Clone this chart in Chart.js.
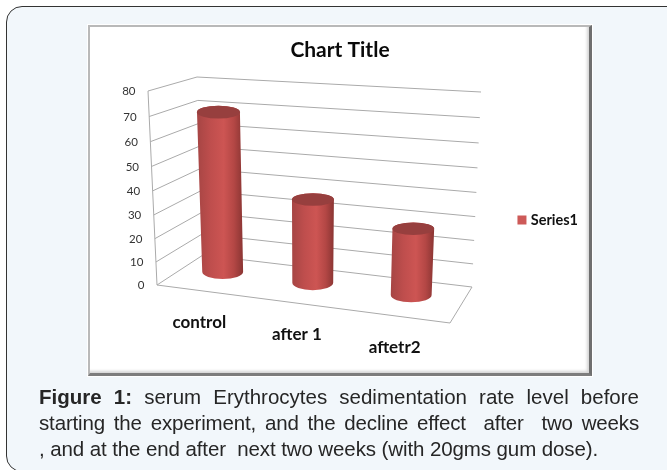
<!DOCTYPE html>
<html>
<head>
<meta charset="utf-8">
<style>
html,body{margin:0;padding:0;width:667px;height:470px;overflow:hidden;background:#fff;}
#panel{position:absolute;left:6px;top:6px;width:700px;height:466px;box-sizing:border-box;background:#f2f7fb;border:1.5px solid #333;border-radius:16px;}
#frame{position:absolute;left:88px;top:25px;width:504px;height:351px;box-sizing:border-box;background:#fff;border-style:solid;border-width:2px 3px 3px 2px;border-color:#b9b9b9 #6f6f6f #7d7d7d #b9b9b9;box-shadow:inset -3px -3px 3px -1px #d4d4d4,0 0 0 1px #fff;}
canvas{position:absolute;left:92px;top:28px;}
#caption{position:absolute;left:39px;top:384px;width:600px;font-family:"Liberation Sans",Arial,sans-serif;font-size:20.5px;line-height:26px;color:#262626;white-space:pre;}
#caption div{text-align:justify;text-align-last:justify;}
#caption div.second{letter-spacing:-0.15px;}
#caption div.last{text-align:left;text-align-last:left;letter-spacing:-0.1px;}
</style>
</head>
<body>
<div id="panel"></div>
<div id="frame"></div>
<canvas id="c" width="496" height="384"></canvas>
<div id="caption"><div><b>Figure 1:</b> serum Erythrocytes sedimentation rate level before</div><div class="second">starting the experiment, and the decline effect  after  two weeks</div><div class="last">, and at the end after  next two weeks (with 20gms gum dose).</div></div>
<script src="https://cdn.jsdelivr.net/npm/chart.js@4"></script>
<script>
const categories = ["control", "after 1", "aftetr2"];
const series1Values = [69, 36, 28];
const seriesName = "Series1";
const yMin = 0, yMax = 80, yStep = 10;

// Page position of the canvas, and the 3D box of the plot in page pixels.
const CANVAS_X = 92, CANVAS_Y = 28;
const BOX = {
  backLeftTop:[197,77], backRightTop:[481,92], backLeftBottom:[203,255], backRightBottom:[472,287],
  frontLeftTop:[148,91], frontRightTop:[460,116], frontLeftBottom:[157,285], frontRightBottom:[450,323]
};
const BAR_DEPTH = 0.6, HEIGHT_WARP = 0.06;
// perspective foreshortening of the category axis at the depth of the bars
const barU = u => u - 0.04 + 0.015*(u-0.5) + 0.135*(u-0.5)*(u-0.5);

const lerp = (a,b,t)=>[a[0]+(b[0]-a[0])*t, a[1]+(b[1]-a[1])*t];
// u: along categories, d: 0 front .. 1 back, v: 0 floor .. 1 top
function project(u,d,v){
  const w = v - HEIGHT_WARP*v*(1-v);
  const back = lerp(lerp(BOX.backLeftBottom,BOX.backRightBottom,u), lerp(BOX.backLeftTop,BOX.backRightTop,u), w);
  const front = lerp(lerp(BOX.frontLeftBottom,BOX.frontRightBottom,u), lerp(BOX.frontLeftTop,BOX.frontRightTop,u), w);
  const p = lerp(front,back,d);
  return [p[0]-CANVAS_X, p[1]-CANVAS_Y];
}
function line(ctx,a,b){ctx.beginPath();ctx.moveTo(a[0],a[1]);ctx.lineTo(b[0],b[1]);ctx.stroke();}

const box3d = {
  id:'box3d',
  beforeDatasetsDraw(chart){
    const ctx = chart.ctx, y = chart.scales.y, x = chart.scales.x;
    const vOf = val => (y.bottom - y.getPixelForValue(val))/(y.bottom - y.top);
    ctx.save();
    ctx.strokeStyle = '#aaaaaa'; ctx.lineWidth = 1;
    // gridlines on the side wall and back wall
    y.ticks.forEach(t=>{
      const v = vOf(t.value);
      line(ctx, project(0,0,v), project(0,1,v));
      line(ctx, project(0,1,v), project(1,1,v));
    });
    // front-left upright and floor outline
    line(ctx, project(0,0,0), project(0,0,1));
    line(ctx, project(0,0,0), project(1,0,0));
    line(ctx, project(1,0,0), project(1,1,0));
    // value labels
    ctx.fillStyle = '#333'; ctx.font = '11.5px Lato'; ctx.textAlign='right'; ctx.textBaseline='middle';
    y.ticks.forEach(t=>{
      const p = project(0,0,vOf(t.value));
      ctx.fillText(String(t.value), p[0]-12.5, p[1]+0.5);
    });
    // category labels
    ctx.fillStyle = '#111'; ctx.font = 'bold 17px Lato'; ctx.textAlign='center';
    chart.data.labels.forEach((lab,i)=>{
      const u = (x.getPixelForValue(i)-x.left)/(x.right-x.left);
      const p = project(u,0,0);
      ctx.fillText(lab, p[0]-6.5, p[1]+31);
    });
    ctx.restore();
  },
  beforeDatasetDraw(chart,args){
    const ctx = chart.ctx, x = chart.scales.x, y = chart.scales.y;
    args.meta.data.forEach(bar=>{
      const u = barU((bar.x-x.left)/(x.right-x.left));
      const hw = bar.width/2/(x.right-x.left);
      const vTop = (y.bottom-bar.y)/(y.bottom-y.top);
      const tl = project(u-hw,BAR_DEPTH,vTop), tr = project(u+hw,BAR_DEPTH,vTop);
      const bl = project(u-hw,BAR_DEPTH,0),   br = project(u+hw,BAR_DEPTH,0);
      const tc = lerp(tl,tr,0.5), bc = lerp(bl,br,0.5);
      const trx = (tr[0]-tl[0])/2, brx = (br[0]-bl[0])/2;
      const try_ = trx*0.3, bry = brx*0.36;
      const g = ctx.createLinearGradient(Math.min(tl[0],bl[0]),0,Math.max(tr[0],br[0]),0);
      g.addColorStop(0,'#a64544'); g.addColorStop(0.3,'#bf4e4d'); g.addColorStop(0.58,'#cd5553');
      g.addColorStop(0.8,'#b44745'); g.addColorStop(1,'#8a3533');
      ctx.save();
      ctx.beginPath();
      ctx.ellipse(tc[0],tc[1],trx,try_,0,Math.PI,0,false);
      ctx.lineTo(br[0],bc[1]);
      ctx.ellipse(bc[0],bc[1],brx,bry,0,0,Math.PI,false);
      ctx.closePath();
      ctx.fillStyle = g; ctx.fill();
      ctx.beginPath();
      ctx.ellipse(tc[0],tc[1],trx,try_,0,0,Math.PI*2);
      ctx.fillStyle = '#973f3e'; ctx.fill();
      ctx.restore();
    });
    return false;
  }
};

new Chart(document.getElementById('c'),{
  type:'bar',
  data:{labels:categories,datasets:[{label:seriesName,data:series1Values,backgroundColor:'#cd5a58',borderColor:'#cd5a58',borderWidth:6,barPercentage:0.44,categoryPercentage:1}]},
  plugins:[box3d],
  options:{
    responsive:false,animation:false,
    plugins:{
      tooltip:{enabled:false},
      title:{display:true,text:'Chart Title',color:'#0a0a0a',font:{family:'Lato',size:21,weight:'bold'},padding:{top:10,bottom:7}},
      legend:{position:'right',labels:{boxWidth:3,boxHeight:3,color:'#111',font:{family:'Lato',size:14.5,weight:'bold'}}}
    },
    scales:{
      x:{display:false},
      y:{display:false,min:yMin,max:yMax,ticks:{stepSize:yStep}}
    }
  }
});
</script>
</body>
</html>
